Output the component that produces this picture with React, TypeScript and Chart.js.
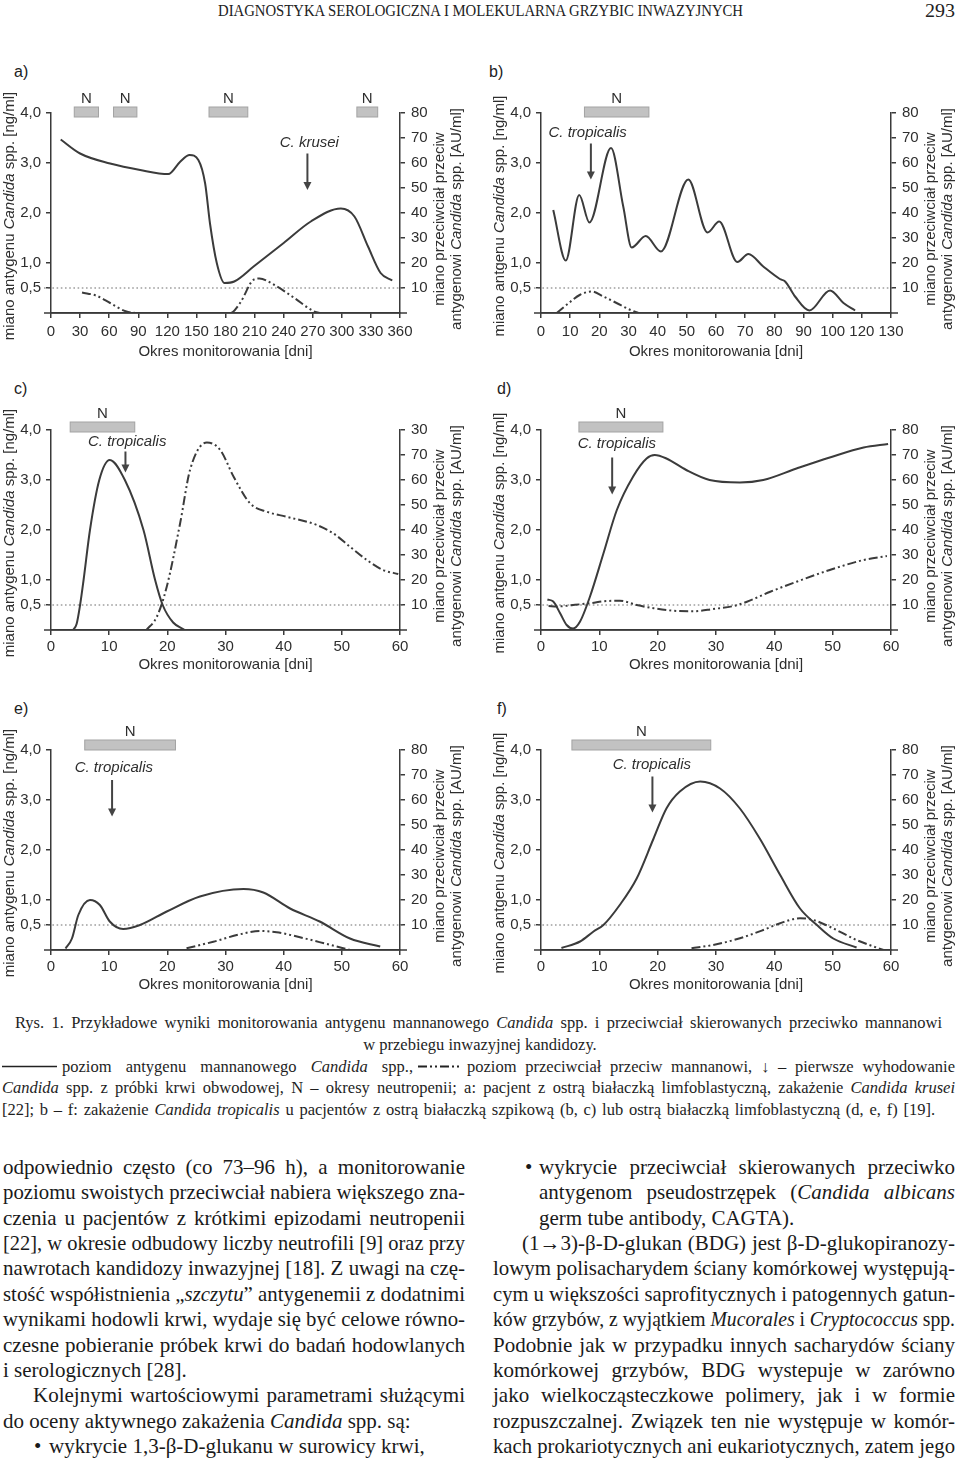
import React, { useEffect, useRef } from 'react';
import { Chart, registerables } from 'chart.js';

Chart.register(...registerables);

// ---------- data ----------
// a) C. krusei
const antigenDaysA = [10, 30, 61, 92, 121, 133, 143, 152, 159, 164, 171, 179, 189, 209, 240, 268, 299, 313, 327, 340, 352];
const antigenA = [3.47, 3.19, 2.99, 2.86, 2.78, 3.02, 3.16, 3.06, 2.59, 1.79, 1.0, 0.6, 0.63, 0.93, 1.4, 1.83, 2.09, 1.93, 1.33, 0.8, 0.65];
const antibodyDaysA = [32, 47, 61, 77, 92, 185, 195, 209, 215, 230, 251, 271, 277];
const antibodyA = [8.2, 6.9, 4, 0.7, 0, 0, 4, 13.3, 13.8, 11.3, 6, 0.7, 0];
const neutropeniaA = [[24, 49], [64.5, 88.6], [163, 203], [315.5, 337]];

// b)
const antigenDaysB = [4.2, 8.5, 13.1, 16.6, 24.0, 28.2, 31.1, 35.9, 41.1, 50.5, 57.1, 61.1, 67.3, 71.1, 76.2, 81.9, 83.7, 87.1, 92.0, 99.1, 103.7, 107.7];
const antigenB = [2.06, 1.05, 2.36, 1.81, 3.3, 2.13, 1.31, 1.54, 1.23, 2.67, 1.61, 1.83, 1.02, 1.18, 0.93, 0.68, 0.63, 0.33, 0.05, 0.45, 0.2, 0.05];
const antibodyDaysB = [5.4, 8.8, 13.4, 17.4, 21.4, 25.9, 30.5, 33.4];
const antibodyB = [0, 3.3, 7.3, 8.6, 6.6, 4, 1.3, 0];
const neutropeniaB = [[14.9, 37.0]];

// c)
const antigenDaysC = [3.8, 4.4, 5.0, 5.6, 6.7, 8.3, 10.1, 12.7, 15.9, 17.9, 19.2, 21.0, 23.0];
const antigenC = [0, 0.12, 0.5, 1.0, 2.0, 3.0, 3.4, 3.0, 2.0, 1.0, 0.5, 0.15, 0];
const antibodyDaysC = [16.4, 18.2, 19.9, 22.2, 23.9, 26.8, 29.1, 31.4, 34.2, 37.1, 40.5, 45.7, 48.5, 51.4, 54.3, 57.1, 59.7];
const antibodyC = [0, 5.3, 17.3, 42.7, 64, 75, 72, 61.3, 50.7, 47.3, 45.3, 42, 38.7, 33.3, 28, 24, 22.4];
const neutropeniaC = [[3.3, 14.4]];

// d)
const antigenDaysD = [1.1, 2.1, 3.3, 4.4, 5.5, 6.7, 8.4, 10.7, 13.0, 15.8, 18.1, 19.5, 21.5, 24.9, 28.9, 34.1, 38.1, 43.8, 49.5, 55.3, 59.5];
const antigenD = [0.61, 0.57, 0.33, 0.1, 0.03, 0.17, 0.67, 1.53, 2.4, 3.07, 3.43, 3.5, 3.43, 3.2, 3.0, 2.95, 3.0, 3.23, 3.45, 3.65, 3.72];
const antibodyDaysD = [1.3, 2.7, 5.5, 8.4, 11.3, 13.5, 16.4, 19.3, 22.7, 26.1, 29.5, 33.0, 35.3, 39.3, 43.8, 49.5, 55.3, 59.3];
const antibodyD = [9.6, 9.4, 10, 10.7, 11.6, 11.7, 10, 8.7, 7.7, 7.5, 8.4, 9.6, 11.3, 15.3, 19.3, 24, 28, 29.6];
const neutropeniaD = [[6.5, 20.9]];

// e)
const antigenDaysE = [2.5, 3.6, 4.7, 6.7, 8.4, 10.1, 12.4, 15.3, 19.9, 25.6, 33.1, 36.5, 41.1, 46.2, 51.4, 56.6];
const antigenE = [0.03, 0.23, 0.7, 1.0, 0.9, 0.57, 0.42, 0.5, 0.77, 1.07, 1.22, 1.15, 0.83, 0.57, 0.23, 0.07];
const antibodyDaysE = [23.3, 27.9, 32.5, 35.9, 38.8, 42.8, 47.4, 51.4];
const antibodyE = [0.7, 3.3, 6.3, 7.6, 7.1, 5.1, 2.4, 0];
const neutropeniaE = [[5.8, 21.4]];

// f)
const antigenDaysF = [3.5, 6.7, 9.0, 10.7, 13.5, 16.4, 19.3, 21.5, 23.8, 27.3, 30.7, 34.1, 37.5, 41.0, 44.4, 47.3, 50.1, 54.1];
const antigenF = [0.04, 0.17, 0.37, 0.5, 0.9, 1.43, 2.23, 2.83, 3.17, 3.37, 3.23, 2.83, 2.23, 1.5, 0.83, 0.5, 0.23, 0.05];
const antibodyDaysF = [25.8, 29.5, 34.1, 38.1, 41.0, 44.4, 46.7, 49.5, 54.1, 58.7];
const antibodyF = [0.7, 2, 4.7, 8, 10.7, 12.7, 12, 9.3, 4, 0];
const neutropeniaF = [[5.3, 29.1]];

// tick labels
const xLabelsA = ['0', '30', '60', '90', '120', '150', '180', '210', '240', '270', '300', '330', '360'];
const xLabelsB = ['0', '10', '20', '30', '40', '50', '60', '70', '80', '90', '100', '120', '130'];
const xLabels60 = ['0', '10', '20', '30', '40', '50', '60'];
const leftTickValues = [0.5, 1, 2, 3, 4];
const leftTickLabels = ['0,5', '1,0', '2,0', '3,0', '4,0'];
const rightTickValues = [10, 20, 30, 40, 50, 60, 70, 80];
const rightTickLabels = ['10', '20', '30', '40', '50', '60', '70', '80'];
const rightTickLabelsC = ['10', '20', '30', '40', '50', '60', '70', '30'];

// ---------- styles ----------
const SANS = '"Liberation Sans", Arial, sans-serif';
const SERIF = '"Liberation Serif", "Times New Roman", serif';
const LINE = '#3b3b3b';
const AXIS = '#3a3a3a';
const TXT = '#2e2e2e';

type Panel = {
  letter: string; col: number; T: number; L: number; R: number;
  xStep: number; xLabels: string[];
  agDays: number[]; ag: number[]; abDays: number[]; ab: number[];
  nBars: number[][];
  arrow: { x: number; from: number; to: number };
  note: { text: string; x: number; y: number };
  rightLabels: string[]; antigenWord: string;
  barOffset: number; tickPad: number; titlePad: number;
};

const panels: Panel[] = [
  { letter: 'a)', col: 0, T: 113, L: 51, R: 400, xStep: 30, xLabels: xLabelsA,
    agDays: antigenDaysA, ag: antigenA, abDays: antibodyDaysA, ab: antibodyA, nBars: neutropeniaA,
    arrow: { x: 264.5, from: 3.19, to: 2.46 }, note: { text: 'C. krusei', x: 266.5, y: 3.4 },
    rightLabels: rightTickLabels, antigenWord: 'antygenu', barOffset: -1, tickPad: 5, titlePad: 7 },
  { letter: 'b)', col: 1, T: 113, L: 541, R: 891, xStep: 10, xLabels: xLabelsB,
    agDays: antigenDaysB, ag: antigenB, abDays: antibodyDaysB, ab: antibodyB, nBars: neutropeniaB,
    arrow: { x: 17.1, from: 3.39, to: 2.67 }, note: { text: 'C. tropicalis', x: 16.0, y: 3.6 },
    rightLabels: rightTickLabels, antigenWord: 'antgenu', barOffset: -1, tickPad: 5, titlePad: 7 },
  { letter: 'c)', col: 0, T: 430, L: 51, R: 400, xStep: 10, xLabels: xLabels60,
    agDays: antigenDaysC, ag: antigenC, abDays: antibodyDaysC, ab: antibodyC, nBars: neutropeniaC,
    arrow: { x: 12.8, from: 3.57, to: 3.15 }, note: { text: 'C. tropicalis', x: 13.1, y: 3.77 },
    rightLabels: rightTickLabelsC, antigenWord: 'antygenu', barOffset: -3, tickPad: 3, titlePad: 11 },
  { letter: 'd)', col: 1, T: 430, L: 541, R: 891, xStep: 10, xLabels: xLabels60,
    agDays: antigenDaysD, ag: antigenD, abDays: antibodyDaysD, ab: antibodyD, nBars: neutropeniaD,
    arrow: { x: 12.2, from: 3.45, to: 2.71 }, note: { text: 'C. tropicalis', x: 13.0, y: 3.72 },
    rightLabels: rightTickLabels, antigenWord: 'antgenu', barOffset: -3, tickPad: 3, titlePad: 11 },
  { letter: 'e)', col: 0, T: 750, L: 51, R: 400, xStep: 10, xLabels: xLabels60,
    agDays: antigenDaysE, ag: antigenE, abDays: antibodyDaysE, ab: antibodyE, nBars: neutropeniaE,
    arrow: { x: 10.5, from: 3.4, to: 2.67 }, note: { text: 'C. tropicalis', x: 10.8, y: 3.65 },
    rightLabels: rightTickLabels, antigenWord: 'antygenu', barOffset: -5, tickPad: 3, titlePad: 11 },
  { letter: 'f)', col: 1, T: 750, L: 541, R: 891, xStep: 10, xLabels: xLabels60,
    agDays: antigenDaysF, ag: antigenF, abDays: antibodyDaysF, ab: antibodyF, nBars: neutropeniaF,
    arrow: { x: 19.1, from: 3.47, to: 2.75 }, note: { text: 'C. tropicalis', x: 19.0, y: 3.7 },
    rightLabels: rightTickLabels, antigenWord: 'antgenu', barOffset: -5, tickPad: 3, titlePad: 11 },
];

// ---------- helpers ----------
type Seg = { t: string; it: boolean };
const parse = (s: string): Seg[] =>
  s.split('*').map((t, i) => ({ t, it: i % 2 === 1 })).filter((q) => q.t.length > 0);

function drawMixed(ctx: CanvasRenderingContext2D, text: string, cx: number, cy: number, rot: number, size: number) {
  const segs = parse(text);
  ctx.save();
  ctx.translate(cx, cy);
  ctx.rotate(rot);
  ctx.textBaseline = 'middle';
  ctx.textAlign = 'left';
  ctx.fillStyle = TXT;
  let total = 0;
  const ws = segs.map((s) => {
    ctx.font = `${s.it ? 'italic ' : ''}${size}px ${SANS}`;
    const w = ctx.measureText(s.t).width;
    total += w;
    return w;
  });
  let xx = -total / 2;
  segs.forEach((s, i) => {
    ctx.font = `${s.it ? 'italic ' : ''}${size}px ${SANS}`;
    ctx.fillText(s.t, xx, 0);
    xx += ws[i];
  });
  ctx.restore();
}

function decor(p: Panel) {
  return {
    id: 'decor',
    beforeDatasetsDraw(chart: any) {
      const { ctx, chartArea: ca } = chart;
      const y = chart.scales.y;
      const y05 = y.getPixelForValue(0.5);
      ctx.save();
      ctx.strokeStyle = '#6f6f6f';
      ctx.lineWidth = 1.2;
      ctx.setLineDash([1.6, 2.6]);
      ctx.beginPath();
      ctx.moveTo(ca.left - 7, y05);
      ctx.lineTo(ca.right + 4, y05);
      ctx.stroke();
      ctx.restore();
    },
    afterDraw(chart: any) {
      const { ctx, chartArea: ca } = chart;
      const x = chart.scales.x;
      const y = chart.scales.y;
      ctx.save();
      // extended x axis
      ctx.strokeStyle = AXIS;
      ctx.lineWidth = 1.5;
      ctx.beginPath();
      ctx.moveTo(ca.left - 7, ca.bottom);
      ctx.lineTo(ca.right + 7, ca.bottom);
      ctx.stroke();
      // neutropenia bars
      const bc = ca.top + p.barOffset;
      ctx.textAlign = 'center';
      ctx.textBaseline = 'middle';
      ctx.font = `15px ${SANS}`;
      for (const [s, e] of p.nBars) {
        const x1 = x.getPixelForValue(s);
        const x2 = x.getPixelForValue(e);
        ctx.fillStyle = '#c2c2c2';
        ctx.fillRect(x1, bc - 5, x2 - x1, 10);
        ctx.strokeStyle = '#a3a3a3';
        ctx.lineWidth = 1;
        ctx.strokeRect(x1, bc - 5, x2 - x1, 10);
        ctx.fillStyle = TXT;
        ctx.fillText('N', (x1 + x2) / 2, bc - 13);
      }
      // arrow
      const ax = x.getPixelForValue(p.arrow.x);
      const a1 = y.getPixelForValue(p.arrow.from);
      const a2 = y.getPixelForValue(p.arrow.to);
      ctx.strokeStyle = '#444';
      ctx.lineWidth = 2;
      ctx.beginPath();
      ctx.moveTo(ax, a1);
      ctx.lineTo(ax, a2 - 6);
      ctx.stroke();
      ctx.fillStyle = '#444';
      ctx.beginPath();
      ctx.moveTo(ax - 4, a2 - 8);
      ctx.lineTo(ax + 4, a2 - 8);
      ctx.lineTo(ax, a2);
      ctx.closePath();
      ctx.fill();
      // species note
      ctx.font = `italic 15px ${SANS}`;
      ctx.fillStyle = TXT;
      ctx.fillText(p.note.text, x.getPixelForValue(p.note.x), y.getPixelForValue(p.note.y));
      // axis titles
      const mid = (ca.top + ca.bottom) / 2;
      drawMixed(ctx, `miano ${p.antigenWord} *Candida* spp. [ng/ml]`, ca.left - 41, mid + 3, -Math.PI / 2, 15);
      drawMixed(ctx, 'miano przeciwciał przeciw', ca.right + 40, mid + 6, -Math.PI / 2, 15);
      drawMixed(ctx, 'antygenowi *Candida* spp. [AU/ml]', ca.right + 57, mid + 6, -Math.PI / 2, 15);
      ctx.restore();
    },
  };
}

function makeChart(canvas: HTMLCanvasElement, p: Panel) {
  const cx = p.col * 480;
  const leftW = p.L - cx;
  const rightW = cx + 480 - p.R;
  const xMax = (p.xLabels.length - 1) * p.xStep;
  const tickFont = { family: SANS, size: 15 };
  const grid = { drawOnChartArea: false, drawTicks: true, tickLength: 5, color: AXIS, lineWidth: 1.5 };
  const border = { display: true, color: AXIS, width: 1.5 };
  return new Chart(canvas, {
    type: 'line',
    data: {
      datasets: [
        {
          label: 'poziom antygenu mannanowego',
          data: p.agDays.map((d, i) => ({ x: d, y: p.ag[i] })),
          yAxisID: 'y',
          borderColor: LINE,
          borderWidth: 2,
          pointRadius: 0,
          fill: false,
          cubicInterpolationMode: 'monotone',
        },
        {
          label: 'poziom przeciwciał przeciw mannanowi',
          data: p.abDays.map((d, i) => ({ x: d, y: p.ab[i] })),
          yAxisID: 'y2',
          borderColor: LINE,
          borderWidth: 2,
          borderDash: [9, 3, 2, 3, 2, 3],
          pointRadius: 0,
          fill: false,
          cubicInterpolationMode: 'monotone',
        },
      ],
    } as any,
    options: {
      responsive: false,
      maintainAspectRatio: false,
      animation: false,
      devicePixelRatio: 1,
      layout: { padding: { top: 65, left: 0, right: 0, bottom: 0 } },
      plugins: { legend: { display: false }, tooltip: { enabled: false } },
      scales: {
        x: {
          type: 'linear',
          min: 0,
          max: xMax,
          afterBuildTicks: (s: any) => {
            s.ticks = p.xLabels.map((_, i) => ({ value: i * p.xStep }));
          },
          afterFit: (s: any) => {
            s.height = 55;
          },
          ticks: {
            autoSkip: false,
            maxRotation: 0,
            padding: p.tickPad,
            font: tickFont,
            color: TXT,
            callback: (_v: any, i: number) => p.xLabels[i],
          },
          grid,
          border,
          title: {
            display: true,
            text: 'Okres monitorowania [dni]',
            color: TXT,
            font: { family: SANS, size: 15 },
            padding: { top: 0, bottom: p.titlePad },
          },
        },
        y: {
          type: 'linear',
          position: 'left',
          min: 0,
          max: 4,
          afterBuildTicks: (s: any) => {
            s.ticks = leftTickValues.map((v) => ({ value: v }));
          },
          afterFit: (s: any) => {
            s.width = leftW;
          },
          ticks: {
            padding: 5,
            font: tickFont,
            color: TXT,
            callback: (_v: any, i: number) => leftTickLabels[i],
          },
          grid,
          border,
        },
        y2: {
          type: 'linear',
          position: 'right',
          min: 0,
          max: 80,
          afterBuildTicks: (s: any) => {
            s.ticks = rightTickValues.map((v) => ({ value: v }));
          },
          afterFit: (s: any) => {
            s.width = rightW;
          },
          ticks: {
            padding: 6,
            font: tickFont,
            color: TXT,
            callback: (_v: any, i: number) => p.rightLabels[i],
          },
          grid,
          border,
        },
      },
    } as any,
    plugins: [decor(p) as any],
  });
}

function PanelChart({ p }: { p: Panel }) {
  const ref = useRef<HTMLCanvasElement>(null);
  useEffect(() => {
    const chart = makeChart(ref.current as HTMLCanvasElement, p);
    return () => chart.destroy();
  }, [p]);
  return (
    <canvas
      ref={ref}
      width={480}
      height={320}
      style={{ position: 'absolute', left: p.col * 480, top: p.T - 65, width: 480, height: 320 }}
    />
  );
}

// ---------- page text ----------
let mctx: CanvasRenderingContext2D | null = null;
function measure(segs: Seg[], size: number, family: string) {
  if (!mctx) mctx = document.createElement('canvas').getContext('2d');
  let w = 0;
  for (const s of segs) {
    (mctx as CanvasRenderingContext2D).font = `${s.it ? 'italic ' : ''}${size}px ${family}`;
    w += (mctx as CanvasRenderingContext2D).measureText(s.t).width;
  }
  return w;
}

type LineSpec = { text: string; x: number; end?: number; y: number; bullet?: number };

function TLine({ l, size, color }: { l: LineSpec; size: number; color: string }) {
  const segs = parse(l.text);
  let ws = 0;
  let squeeze: number | undefined;
  if (l.end !== undefined) {
    const target = l.end - l.x;
    const nat = measure(segs, size, SERIF);
    const spaces = l.text.split(' ').length - 1;
    if (nat > target) squeeze = target;
    else if (spaces > 0) ws = (target - nat) / spaces;
  }
  return (
    <>
      {l.bullet !== undefined && (
        <text x={l.bullet} y={l.y} fontFamily={SERIF} fontSize={size} fill={color}>•</text>
      )}
      <text
        x={l.x}
        y={l.y}
        fontFamily={SERIF}
        fontSize={size}
        fill={color}
        textLength={squeeze}
        lengthAdjust={squeeze !== undefined ? 'spacingAndGlyphs' : undefined}
        style={{ whiteSpace: 'pre', wordSpacing: `${ws}px` }}
      >
        {segs.map((s, i) => (
          <tspan key={i} fontStyle={s.it ? 'italic' : 'normal'}>{s.t}</tspan>
        ))}
      </text>
    </>
  );
}

const BY = (i: number) => 1174 + i * 25.36;
const bodyLeft: LineSpec[] = [
  { text: 'odpowiednio często (co 73–96 h), a monitorowanie', x: 3, end: 465, y: BY(0) },
  { text: 'poziomu swoistych przeciwciał nabiera większego zna-', x: 3, end: 465, y: BY(1) },
  { text: 'czenia u pacjentów z krótkimi epizodami neutropenii', x: 3, end: 465, y: BY(2) },
  { text: '[22], w okresie odbudowy liczby neutrofili [9] oraz przy', x: 3, end: 465, y: BY(3) },
  { text: 'nawrotach kandidozy inwazyjnej [18]. Z uwagi na czę-', x: 3, end: 465, y: BY(4) },
  { text: 'stość współistnienia „*szczytu*” antygenemii z dodatnimi', x: 3, end: 465, y: BY(5) },
  { text: 'wynikami hodowli krwi, wydaje się być celowe równo-', x: 3, end: 465, y: BY(6) },
  { text: 'czesne pobieranie próbek krwi do badań hodowlanych', x: 3, end: 465, y: BY(7) },
  { text: 'i serologicznych [28].', x: 3, y: BY(8) },
  { text: 'Kolejnymi wartościowymi parametrami służącymi', x: 33, end: 465, y: BY(9) },
  { text: 'do oceny aktywnego zakażenia *Candida* spp. są:', x: 3, y: BY(10) },
  { text: 'wykrycie 1,3-β-D-glukanu w surowicy krwi,', x: 49, y: BY(11), bullet: 34 },
];
const bodyRight: LineSpec[] = [
  { text: 'wykrycie przeciwciał skierowanych przeciwko', x: 539, end: 955, y: BY(0), bullet: 525 },
  { text: 'antygenom pseudostrzępek (*Candida albicans*', x: 539, end: 955, y: BY(1) },
  { text: 'germ tube antibody, CAGTA).', x: 539, y: BY(2) },
  { text: '(1→3)-β-D-glukan (BDG) jest β-D-glukopiranozy-', x: 522, end: 955, y: BY(3) },
  { text: 'lowym polisacharydem ściany komórkowej występują-', x: 493, end: 955, y: BY(4) },
  { text: 'cym u większości saprofitycznych i patogennych gatun-', x: 493, end: 955, y: BY(5) },
  { text: 'ków grzybów, z wyjątkiem *Mucorales* i *Cryptococcus* spp.', x: 493, end: 955, y: BY(6) },
  { text: 'Podobnie jak w przypadku innych sacharydów ściany', x: 493, end: 955, y: BY(7) },
  { text: 'komórkowej grzybów, BDG wystepuje w zarówno', x: 493, end: 955, y: BY(8) },
  { text: 'jako wielkocząsteczkowe polimery, jak i w formie', x: 493, end: 955, y: BY(9) },
  { text: 'rozpuszczalnej. Związek ten nie występuje w komór-', x: 493, end: 955, y: BY(10) },
  { text: 'kach prokariotycznych ani eukariotycznych, zatem jego', x: 493, end: 955, y: BY(11) },
];
const captionLines: LineSpec[] = [
  { text: 'Rys. 1. Przykładowe wyniki monitorowania antygenu mannanowego *Candida* spp. i przeciwciał skierowanych przeciwko mannanowi', x: 15, end: 942, y: 1028 },
  { text: 'poziom antygenu mannanowego *Candida* spp.,', x: 62, end: 413, y: 1071.5 },
  { text: 'poziom przeciwciał przeciw mannanowi, ↓ – pierwsze wyhodowanie', x: 467, end: 955, y: 1071.5 },
  { text: '*Candida* spp. z próbki krwi obwodowej, N – okresy neutropenii; a: pacjent z ostrą białaczką limfoblastyczną, zakażenie *Candida krusei*', x: 2, end: 955, y: 1093 },
  { text: '[22]; b – f: zakażenie *Candida tropicalis* u pacjentów z ostrą białaczką szpikową (b, c) lub ostrą białaczką limfoblastyczną (d, e, f) [19].', x: 2, end: 935, y: 1114.5 },
];

function PageText() {
  return (
    <svg width={960} height={1461} style={{ position: 'absolute', left: 0, top: 0 }}>
      <text x={218} y={15.5} fontFamily={SERIF} fontSize={16} fill="#222" textLength={525} lengthAdjust="spacingAndGlyphs">
        DIAGNOSTYKA SEROLOGICZNA I MOLEKULARNA GRZYBIC INWAZYJNYCH
      </text>
      <text x={925} y={16.5} fontFamily={SERIF} fontSize={19} fill="#222" textLength={30} lengthAdjust="spacingAndGlyphs">293</text>
      {panels.map((p) => (
        <text key={p.letter} x={p.col === 0 ? 14 : 489 + (p.T > 200 ? 8 : 0)} y={p.T - 36} fontFamily={SANS} fontSize={16} fill="#222">
          {p.letter}
        </text>
      ))}
      {captionLines.map((l, i) => (
        <TLine key={i} l={l} size={16.5} color="#1e1e1e" />
      ))}
      <text x={480} y={1049.5} fontFamily={SERIF} fontSize={16.5} fill="#1e1e1e" textAnchor="middle">
        w przebiegu inwazyjnej kandidozy.
      </text>
      <line x1={2} y1={1066.5} x2={57} y2={1066.5} stroke="#222" strokeWidth={1.6} />
      <line x1={418} y1={1066.5} x2={462} y2={1066.5} stroke="#222" strokeWidth={1.8} strokeDasharray="9 3 2 3 2 3" />
      {bodyLeft.map((l, i) => (
        <TLine key={'l' + i} l={l} size={21} color="#1a1a1a" />
      ))}
      {bodyRight.map((l, i) => (
        <TLine key={'r' + i} l={l} size={21} color="#1a1a1a" />
      ))}
    </svg>
  );
}

export default function App() {
  return (
    <div style={{ position: 'absolute', left: 0, top: 0, width: 960, height: 1461, background: '#fff', overflow: 'hidden' }}>
      <PageText />
      {panels.map((p) => (
        <PanelChart key={p.letter} p={p} />
      ))}
    </div>
  );
}
